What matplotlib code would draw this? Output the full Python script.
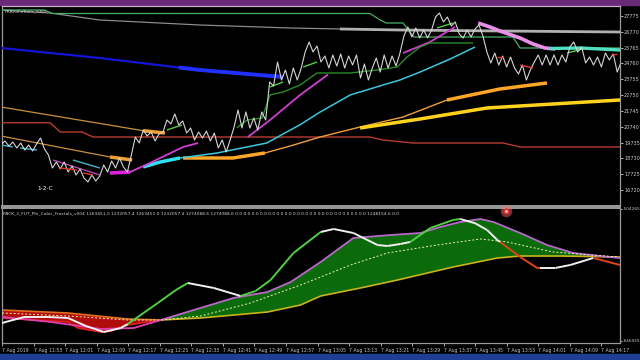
import matplotlib
matplotlib.use('Agg')
import matplotlib.pyplot as plt
import numpy as np
from matplotlib.patches import Rectangle

# ---------------- data (x = minutes since 11:45, 7 Aug 2019) ----------------
price_close = [19584, 19838, 19520, 19774, 19393, 19711, 19266, 19584, 19203, 19647,
               20028, 19330, 18949, 18123, 18504, 18060, 18504, 17869, 18250, 17679,
               18060, 17488, 17234, 17679, 17297, 17615, 18314, 17869, 18568, 18123,
               18758, 18187, 17869, 18949, 20091, 19711, 20536, 20155, 20409, 19838,
               20282, 20409, 21171, 20917, 21552, 20853, 21108, 20345, 20663, 19901,
               20409, 20028, 20473, 19838, 20345, 19393, 19901, 19139, 19901, 20727,
               21806, 20663, 21679, 20663, 21298, 20536, 21679, 21171, 23584, 23330,
               24854, 23711, 24346, 23457, 24473, 23711, 24473, 25489, 26124, 25489,
               25870, 24854, 25235, 24473, 25298, 24600, 25362, 24473, 25235, 24663,
               25298, 23838, 24727, 23711, 24473, 25108, 24219, 25298, 24473, 25235,
               24600, 25425, 26505, 27077, 26441, 27013, 26378, 26886, 26378, 26886,
               27711, 27966, 27394, 27711, 27140, 27394, 26632, 26378, 26886, 26441,
               26950, 27203, 26505, 25489, 24790, 25425, 24663, 25235, 24536, 25171,
               24473, 24092, 24663, 23711, 24346, 24854, 25298, 24663, 25298, 24663,
               25298, 24663, 25298, 24854, 25806, 26124, 25489, 25806, 24790, 25171,
               24663, 25171, 24536, 25425, 24981, 25362, 24219, 24854]

time_labels = ["7 Aug 2019", "7 Aug 11:53", "7 Aug 12:01", "7 Aug 12:09", "7 Aug 12:17",
               "7 Aug 12:25", "7 Aug 12:33", "7 Aug 12:41", "7 Aug 12:49", "7 Aug 12:57",
               "7 Aug 13:05", "7 Aug 13:13", "7 Aug 13:21", "7 Aug 13:29", "7 Aug 13:37",
               "7 Aug 13:45", "7 Aug 13:53", "7 Aug 14:01", "7 Aug 14:09", "7 Aug 14:17"]
label_minutes = [0, 8, 16, 24, 32, 40, 48, 56, 64, 72, 80, 88, 96, 104, 112, 120, 128, 136, 144, 152]

price_ticks = [27775, 26770, 25765, 24760, 23755, 22750, 21745, 20740, 19735, 18730, 17725, 16720]
osc_ticks = [-504265, -846925]

gray_t = [0, 12.4, 25, 50.4, 73.2, 85.8, 101, 126.3, 156.7]
gray_v = [28156, 27966, 27521, 27203, 27013, 26950, 26886, 26823, 26759]

green_t = [0, 11, 13, 93.4, 96, 97.5, 101.8, 104.5, 129.6, 131.4, 156.7]
green_v = [28156, 28156, 27934, 27934, 27521, 27330, 27330, 26441, 26441, 25743, 25743]

blue_t = [0, 25, 45, 50.4, 71.4]
blue_v = [25743, 25108, 24505, 24346, 23902]

tan_up_t = [0, 33.4, 36, 41.5]
tan_up_v = [21997, 20600, 20489, 20345]
tan_lo_t = [0, 27.6, 33.2]
tan_lo_v = [20155, 18822, 18631]

red_t = [0, 12.4, 15, 20.5, 23.3, 93.4, 96.7, 104.3, 127.1, 131.4, 156.7]
red_v = [20997, 20997, 20409, 20409, 20091, 20091, 19901, 19711, 19711, 19457, 19457]

orange_t = [46.1, 58.7, 66.8, 73.2, 80.8, 90.9, 101.8, 112.9, 126.3, 138.2]
orange_v = [18758, 18758, 19076, 19520, 20091, 20727, 21362, 22441, 23140, 23521]

yellow_t = [90.9, 106.1, 123.0, 139.7, 156.7]
yellow_v = [20663, 21235, 21933, 22187, 22441]

cyan_t = [36, 40.3, 45.3, 54.7, 67.3, 71.4, 75.7, 80.8, 88.4, 96.7, 101, 106.1, 113.7, 120]
cyan_v = [18187, 18504, 18758, 19076, 19711, 20282, 20870, 21679, 22759, 23394, 23711, 24219, 25045, 25806]

mag1_t = [27.6, 32.7, 37.7, 46.1, 49.9]
mag1_v = [17806, 17869, 18441, 19457, 19711]
mag2_t = [62.5, 68.1, 75.7, 82.8]
mag2_v = [20091, 21171, 22759, 24060]
mag3_t = [101.8, 108.6, 114.9]
mag3_v = [25425, 26124, 27077]
mag_thin_t = [13.2, 25]
mag_thin_v = [18631, 17679]

pink_t = [120.8, 123.8, 126.3, 131.4, 134.7, 137.7, 140.3]
pink_v = [27330, 27077, 26823, 26378, 25997, 25743, 25680]
teal_t = [139, 146.6, 151.6, 156.7]
teal_v = [25711, 25743, 25680, 25616]

dkgreen_t = [59.7, 62.3, 66.1, 68.1, 71.4, 75.7, 80, 88.4, 95.2, 100.3, 102.8, 106.1, 108.6, 119.5]
dkgreen_v = [20679, 21171, 21298, 22759, 22949, 23394, 24156, 24156, 24346, 24536, 25171, 25806, 26060, 26060]

lgreen_t = [[42, 45.8], [68.1, 71.4], [76.5, 80], [110.4, 114.4], [143.3, 147.3]]
lgreen_v = [[20536, 20854], [23267, 23584], [24536, 24854], [27013, 27330], [25425, 25680]]

rdash_t = [[125.6, 127.1], [131.4, 134.7], [14.9, 19.2], [20.8, 23.3], [154.4, 156]]
rdash_v = [[25171, 25171], [24663, 24473], [18123, 17996], [17806, 17679], [25362, 25362]]

cshort_t = [[0, 3], [4.8, 9.1], [18.2, 25]]
cshort_v = [[19584, 19457], [19393, 19266], [18631, 18123]]

# oscillator panel
sig_t = [0, 5.6, 11.6, 16.7, 21.3, 25.8, 30.1, 31.9, 39.5, 44.1, 47.1, 53.7, 60.5, 64.3, 68.1,
         73.9, 80.8, 84.1, 89.1, 95.2, 97.7, 101, 103.5, 108.6, 114.4, 116.2, 120, 123, 125.6,
         126.3, 131.4, 135.7, 136.5, 140.3, 144.1, 149.9, 152.9, 156.7]
sig_v = [-800200, -784600, -784600, -787200, -808000, -823600, -813200, -802800, -748300,
         -714500, -696400, -709300, -730100, -717100, -688600, -618500, -564000, -556200,
         -566600, -597700, -600300, -595100, -589900, -553600, -532800, -530200, -541400,
         -558800, -584700, -589900, -628900, -657400, -657400, -657400, -649600, -631500,
         -639300, -649600]
sig_state = ['dn'] * 7 + ['up'] * 3 + ['dn'] * 2 + ['up'] * 4 + ['dn'] * 6 + ['up'] * 3 + \
            ['dn'] * 4 + ['neg'] * 3 + ['dn'] * 3 + ['neg'] * 3

band_hi_t = [0, 12.4, 25.1, 33.4, 40.3, 48.6, 58.7, 67.3, 73.2, 80.8, 89.1, 98.5, 106.1,
             111.1, 116.2, 121.3, 124.6, 131.4, 138.2, 144.8, 151.6, 156.7]
band_hi_v = [-784600, -797600, -815800, -813200, -792400, -766500, -735300, -719700, -693800,
             -641900, -579500, -571800, -566600, -551000, -538000, -530200, -538000, -566600,
             -597700, -618500, -626300, -631500]
band_lo_t = [40.3, 50.4, 67.3, 75.7, 80.8, 90.9, 100.3, 114.4, 125.6, 131.4, 141.5, 156.7]
band_lo_v = [-792400, -787200, -771700, -753500, -730100, -709300, -688600, -654800, -631500,
             -626300, -626300, -628900]
bear_hi_t = [0, 16.7, 31.9, 40.3]
bear_hi_v = [-766500, -774200, -789800, -792400]
bear_lo_t = [0, 8.1, 16.7, 19.2, 25.1, 27.6, 31.9, 40.3]
bear_lo_v = [-787200, -792400, -797600, -813200, -823600, -821000, -805400, -792400]
mid_t = [0, 16.7, 31.9, 40.3, 50.4, 63, 75.7, 80.8, 88.4, 97.7, 110.4, 121.3, 128.1, 139.7, 156.2]
mid_v = [-774200, -782000, -792400, -792400, -782000, -748300, -701600, -680800, -649600,
         -618500, -597700, -582100, -589900, -615900, -628900]

header = ("PACK_2_FUT_Phi_Cubic_Fractals_v004 1263451.0 1232057.4 1263451.0 1232057.4 "
          "1274088.6 1274088.6 " + "0.0 " * 16 + "1248154.6 0.0")

# ---------------- figure ----------------
W, H = 640, 360
def fr(x0, y0, x1, y1):
    return [x0 / W, 1 - y1 / H, (x1 - x0) / W, (y1 - y0) / H]

plt.rcParams['font.family'] = ['DejaVu Sans']
fig = plt.figure(figsize=(6.4, 3.6), dpi=100, facecolor='black')
fig.add_artist(Rectangle((0, 1 - 5 / H), 1, 5 / H, transform=fig.transFigure,
                         color='#6a2a78', zorder=0))
fig.add_artist(Rectangle((0, 0), 1, 6 / H, transform=fig.transFigure,
                         color='#1e3f95', zorder=0))

ax = fig.add_axes(fr(2, 6, 620, 206), facecolor='black')
axl = fig.add_axes(fr(2, 208, 620, 343), facecolor='black')

XL = (0.25, 156.7)
ax.set_xlim(*XL)
ax.set_ylim(15710, 28410)
axl.set_xlim(*XL)
axl.set_ylim(-852129, -501669)

def seg(a, t, v, c, lw, z=3, **kw):
    a.plot(t, v, color=c, lw=lw, zorder=z, solid_capstyle='butt', **kw)

# main panel lines
seg(ax, gray_t, gray_v, '#8c8c8c', 0.9)
seg(ax, gray_t[5:], gray_v[5:], '#b0b0b0', 2.0)
seg(ax, green_t, green_v, '#45b065', 0.9)
seg(ax, blue_t, blue_v, '#1414d8', 1.6)
seg(ax, blue_t[2:], blue_v[2:], '#2030ff', 2.8)
seg(ax, red_t, red_v, '#b83c30', 1.0)
seg(ax, tan_up_t, tan_up_v, '#c8903c', 0.9)
seg(ax, tan_up_t[2:], tan_up_v[2:], '#f0a030', 2.5)
seg(ax, tan_lo_t, tan_lo_v, '#c8903c', 0.9)
seg(ax, tan_lo_t[1:], tan_lo_v[1:], '#f0a030', 2.5)
seg(ax, orange_t, orange_v, '#f0a040', 1.0)
seg(ax, orange_t[:3], orange_v[:3], '#ffa528', 2.5)
seg(ax, orange_t[7:], orange_v[7:], '#ffa528', 2.5)
seg(ax, yellow_t, yellow_v, '#ffd21e', 2.5)
seg(ax, cyan_t, cyan_v, '#3cc8dc', 1.1)
seg(ax, cyan_t[:3], cyan_v[:3], '#30e0f0', 2.5)
seg(ax, mag1_t, mag1_v, '#d040d0', 1.3)
seg(ax, mag1_t[:2], mag1_v[:2], '#e020e0', 2.6)
seg(ax, mag2_t, mag2_v, '#d040d0', 1.3)
seg(ax, mag3_t, mag3_v, '#d040d0', 1.3)
seg(ax, mag_thin_t, mag_thin_v, '#c050c0', 0.9)
seg(ax, dkgreen_t, dkgreen_v, '#2a8a2a', 1.0)
for t, v in zip(lgreen_t, lgreen_v):
    seg(ax, t, v, '#50d040', 1.0)
for t, v in zip(cshort_t, cshort_v):
    seg(ax, t, v, '#40b8c8', 1.0)
seg(ax, pink_t, pink_v, '#e890e8', 2.6, z=4)
seg(ax, teal_t, teal_v, '#50e0c0', 2.4, z=4)
ax.plot(np.arange(len(price_close)), price_close, color='#d4d4d4', lw=0.8, zorder=5)
for t, v in zip(rdash_t, rdash_v):
    seg(ax, t, v, '#e03a2a', 1.0, z=6)

ax.text(9.2, 16726, "1-2-C", color='white', fontsize=4.2, zorder=7)
ax.text(0.004, 0.985, "PRAVdhaBulls_RAM", transform=ax.transAxes, color='#c0c0c0',
        fontsize=3.2, va='top', ha='left', zorder=7)

# oscillator panel
bx = bear_hi_t + bear_lo_t[::-1]
by = bear_hi_v + bear_lo_v[::-1]
axl.fill(bx, by, color='#b00c0c', lw=0, zorder=1)
gx = band_hi_t[4:] + band_lo_t[::-1]
gy = band_hi_v[4:] + band_lo_v[::-1]
axl.fill(gx, gy, color='#0b6b0b', lw=0, zorder=1)
seg(axl, bear_hi_t, bear_hi_v, '#e07020', 1.2, z=2)
seg(axl, bear_lo_t, bear_lo_v, '#e02020', 1.2, z=2)
seg(axl, band_lo_t, band_lo_v, '#c8b420', 1.2, z=2)
seg(axl, band_hi_t[:5], band_hi_v[:5], '#e040b0', 1.3, z=3)
seg(axl, band_hi_t[4:], band_hi_v[4:], '#b868c8', 1.3, z=3)
axl.plot(mid_t, mid_v, color='#f0f0b0', lw=0.7, ls=(0, (2, 2)), zorder=3)
col = {'up': '#50d040', 'dn': '#f0f0f0', 'neg': '#e04418'}
for i in range(len(sig_t) - 1):
    seg(axl, sig_t[i:i + 2], sig_v[i:i + 2], col[sig_state[i]], 1.4, z=4)

axl.text(0.002, 0.975, header, transform=axl.transAxes, color='#d0d0d0', fontsize=3.2,
         va='top', ha='left', zorder=7)
axl.scatter([127.8], [-509457], s=70, color='#ff7070', alpha=0.45, lw=0, clip_on=False, zorder=8)
axl.scatter([127.8], [-509457], s=20, color='#e03030', lw=0, clip_on=False, zorder=9)
axl.scatter([127.8], [-509457], s=4, color='#ffc0c0', lw=0, clip_on=False, zorder=10)

# axes styling
for a in (ax, axl):
    for s in a.spines.values():
        s.set_color('#9a9a9a')
        s.set_linewidth(0.9)
    a.yaxis.tick_right()
ax.tick_params(axis='y', colors='#c8c8c8', labelsize=3.6, length=2, width=0.6, pad=1)
axl.tick_params(axis='y', colors='#c8c8c8', labelsize=3.1, length=1.5, width=0.6, pad=0.3)
ax.spines['top'].set_color('#c8b0c8')
ax.spines['bottom'].set_linewidth(1.4)
axl.spines['top'].set_linewidth(1.4)
ax.set_xticks([])
ax.set_yticks(price_ticks)
ax.set_yticklabels([str(p) for p in price_ticks])
axl.set_yticks(osc_ticks)
axl.set_yticklabels([str(p) for p in osc_ticks])
axl.set_xticks(label_minutes)
axl.set_xticklabels(time_labels)
axl.tick_params(axis='x', colors='#c8c8c8', labelsize=3.3, length=2, width=0.6, pad=1.5)
for lbl in axl.get_xticklabels():
    lbl.set_ha('left')

fig.savefig('out.png', dpi=100, facecolor='black')
